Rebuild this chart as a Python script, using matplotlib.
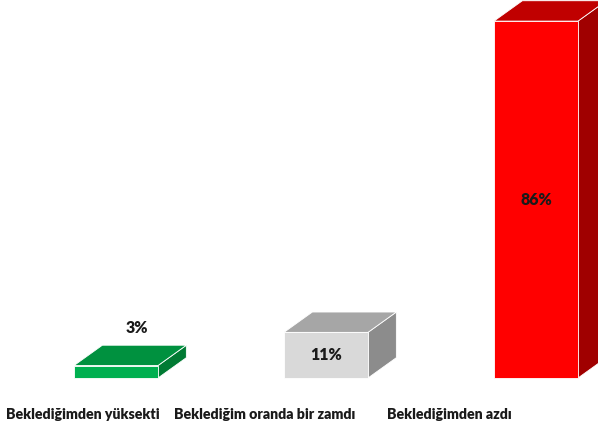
import matplotlib
matplotlib.use("Agg")
from matplotlib import pyplot as plt
from matplotlib.patches import Polygon

# Данные
categories = ["Beklediğimden yüksekti", "Beklediğim oranda bir zamdı", "Beklediğimden azdı"]
values = [3, 11, 86]
value_labels = ["3%", "11%", "86%"]

# Цвета граней: передняя, верхняя, боковая
front_colors = ["#00B050", "#D9D9D9", "#FF0000"]
top_colors = ["#00913F", "#A6A6A6", "#C00000"]
side_colors = ["#007A33", "#8C8C8C", "#A00000"]

# Геометрия "объемных" столбцов
bar_w = 0.4
depth_x = 0.135
depth_y = 4.9
label_x = [-0.157, 0.71, 1.586]

fig = plt.figure(figsize=(5.98, 4.33), dpi=100)
ax = fig.add_axes([0, 0, 1, 1])
ax.set_xlim(-0.5524, 2.2952)
ax.set_ylim(-13.25, 91.08)
ax.axis("off")

for i, v in enumerate(values):
    x0 = i - bar_w / 2
    x1 = i + bar_w / 2
    front = Polygon([(x0, 0), (x1, 0), (x1, v), (x0, v)], closed=True,
                    facecolor=front_colors[i], edgecolor="white", linewidth=0.6)
    top = Polygon([(x0, v), (x1, v), (x1 + depth_x, v + depth_y), (x0 + depth_x, v + depth_y)],
                  closed=True, facecolor=top_colors[i], edgecolor="white", linewidth=0.6)
    side = Polygon([(x1, 0), (x1 + depth_x, depth_y), (x1 + depth_x, v + depth_y), (x1, v)],
                   closed=True, facecolor=side_colors[i], edgecolor="white", linewidth=0.6)
    for p in (side, top, front):
        ax.add_patch(p)

    if v < 5:
        ax.text(i + depth_x / 2 + 0.03, v + depth_y + 4.2, value_labels[i], ha="center", va="center",
                fontsize=11.5, fontweight="heavy", family="Lato", color="#1a1a1a")
    else:
        ax.text(i, v / 2, value_labels[i], ha="center", va="center",
                fontsize=11.5, fontweight="heavy", family="Lato", color="#1a1a1a")

for i, cat in enumerate(categories):
    ax.text(label_x[i], -8.9, cat, ha="center", va="center",
            fontsize=10.2, fontweight="heavy", family="Lato", color="#1a1a1a")

fig.savefig("out.png", dpi=100, facecolor="white")
